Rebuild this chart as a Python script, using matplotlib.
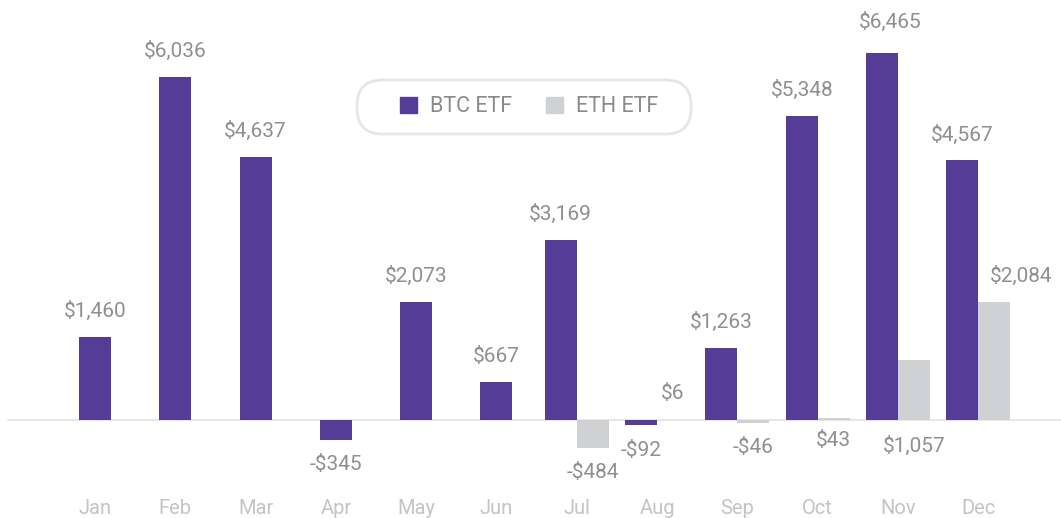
import matplotlib
matplotlib.use("Agg")
import matplotlib.pyplot as plt
from matplotlib.patches import FancyBboxPatch, Patch
import numpy as np

plt.rcParams['font.family'] = ['Roboto', 'DejaVu Sans']

months = ["Jan", "Feb", "Mar", "Apr", "May", "Jun", "Jul", "Aug", "Sep", "Oct", "Nov", "Dec"]
btc_flows = [1460, 6036, 4637, -345, 2073, 667, 3169, -92, 1263, 5348, 6465, 4567]
eth_flows = [None, None, None, None, None, None, -484, 6, -46, 43, 1057, 2084]
# where the ETH value label sits: "out" = past the bar end, "below" = under the zero line
eth_label_side = [None, None, None, None, None, None, "out", "out", "out", "below", "below", "out"]

btc_color = "#553c96"
eth_color = "#d0d1d3"
label_color = "#8f8f8f"
month_color = "#c4c4c4"

fig = plt.figure(figsize=(10.61, 5.18), dpi=100)
ax = fig.add_axes([0, 0, 1, 1])
ax.set_xlim(-1.183, 12.03)
ax.set_ylim(-1724, 7391)
ax.axis("off")

x = np.arange(len(months))
w = 0.3985

# months without ETH data get a single centred BTC bar
has_eth = np.array([v is not None for v in eth_flows])
btc_x = np.where(has_eth, x - w / 2, x)
eth_x = x[has_eth] + w / 2
eth_v = [v for v in eth_flows if v is not None]

ax.bar(btc_x, btc_flows, w, color=btc_color, zorder=2)
ax.bar(eth_x, eth_v, w, color=eth_color, zorder=2)

ax.axhline(0, xmin=8 / 1061, xmax=1, color="#e3e3e3", lw=1.2, zorder=1)


def money(v):
    return ("-$" if v < 0 else "$") + f"{abs(v):,}"


def put_label(xc, v, side="out", dx=0, dy=0):
    if side == "below":
        off = -20 if v < 100 else -26
        ax.annotate(money(v), (xc, 0), xytext=(dx, off + dy), textcoords="offset pixels",
                    ha="center", va="center", fontsize=15, color=label_color)
        return
    off = 26 if v >= 0 else -25
    ax.annotate(money(v), (xc, v), xytext=(dx, off + dy), textcoords="offset pixels",
                ha="center", va="center", fontsize=15, color=label_color)


for i, v in enumerate(btc_flows):
    if months[i] == "Nov":
        put_label(btc_x[i], v, dx=8, dy=5)
    else:
        put_label(btc_x[i], v)
k = 0
for i, v in enumerate(eth_flows):
    if v is None:
        continue
    put_label(eth_x[k], v, eth_label_side[i], dx=27 if months[i] == "Dec" else 0)
    k += 1

# month labels
for i, m in enumerate(months):
    ax.text(x[i], 0.018, m, transform=ax.get_xaxis_transform(),
            ha="center", va="center", fontsize=14.5, color=month_color)

# legend with rounded frame
box = FancyBboxPatch((0.3365, 0.7413), 0.3148, 0.1043,
                     boxstyle="round,pad=0,rounding_size=0.024",
                     mutation_aspect=2.05, transform=ax.transAxes,
                     facecolor="white", edgecolor="#e6e6e6", lw=2, zorder=3)
ax.add_patch(box)
handles = [Patch(color=btc_color, label="BTC ETF"), Patch(color=eth_color, label="ETH ETF")]
leg = ax.legend(handles=handles, loc="center", bbox_to_anchor=(529 / 1061, 1 - 107 / 518),
                ncol=2, frameon=False, fontsize=15.5, handlelength=0.8, handleheight=0.8,
                handletextpad=0.6, columnspacing=1.55, labelcolor="#8a8a8a")
leg.set_zorder(4)

fig.savefig("out.png", dpi=100)
